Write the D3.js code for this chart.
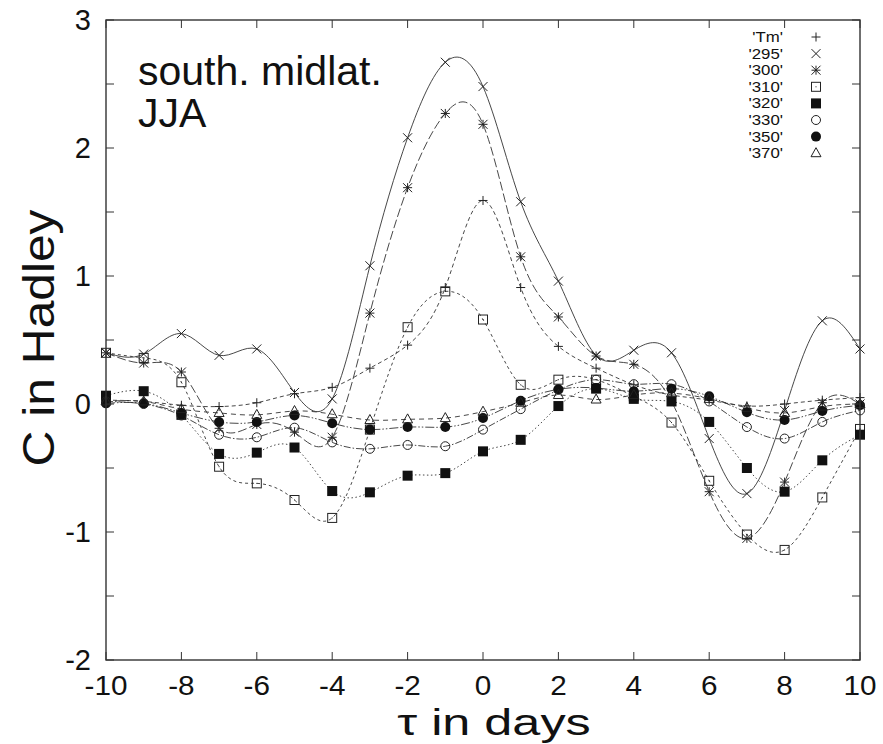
<!DOCTYPE html>
<html>
  <head>
    <script src="https://cdnjs.cloudflare.com/ajax/libs/d3/7.8.5/d3.min.js"></script>
    <style type="text/css">
      body {
        margin: 0;
        padding: 0;
        background: #fff;
      }
      text {
        font-family: "Liberation Sans", Arial, Helvetica, sans-serif;
        fill: #111;
      }
    </style>
  </head>
  <body>
    <div id="chart"></div>
    <script type="text/javascript">
    // lag in days
    const days = [-10, -9, -8, -7, -6, -5, -4, -3, -2, -1, 0, 1, 2, 3, 4, 5, 6, 7, 8, 9, 10];

    // one list per level
    const tm   = [0.03, 0.02, -0.01, -0.02, 0.01, 0.08, 0.13, 0.28, 0.46, 0.91, 1.59, 0.91, 0.45, 0.28, 0.15, 0.07, 0.03, -0.015, 0.0, 0.03, 0.05];
    const s295 = [0.40, 0.39, 0.55, 0.38, 0.43, 0.09, 0.04, 1.08, 2.08, 2.67, 2.48, 1.58, 0.96, 0.38, 0.42, 0.40, -0.27, -0.70, -0.05, 0.65, 0.43];
    const s300 = [0.40, 0.32, 0.25, -0.19, -0.16, -0.22, -0.26, 0.71, 1.69, 2.27, 2.185, 1.15, 0.68, 0.375, 0.31, 0.02, -0.685, -1.05, -0.61, 0.01, 0.0];
    const s310 = [0.40, 0.36, 0.17, -0.49, -0.62, -0.75, -0.89, -0.20, 0.60, 0.88, 0.66, 0.15, 0.19, 0.19, 0.06, -0.145, -0.60, -1.02, -1.14, -0.73, -0.195];
    const s320 = [0.065, 0.10, -0.085, -0.39, -0.38, -0.34, -0.68, -0.69, -0.56, -0.54, -0.37, -0.28, -0.016, 0.12, 0.04, 0.02, -0.14, -0.50, -0.685, -0.44, -0.24];
    const s330 = [0.02, 0.0, -0.09, -0.24, -0.26, -0.185, -0.30, -0.35, -0.32, -0.33, -0.20, -0.04, 0.11, 0.19, 0.155, 0.155, 0.02, -0.18, -0.27, -0.14, -0.05];
    const s350 = [0.005, 0.005, -0.07, -0.14, -0.14, -0.09, -0.15, -0.20, -0.18, -0.18, -0.11, 0.026, 0.115, 0.125, 0.10, 0.12, 0.06, -0.065, -0.125, -0.055, -0.01];
    const s370 = [0.02, 0.02, -0.04, -0.07, -0.085, -0.055, -0.08, -0.125, -0.12, -0.11, -0.06, 0.01, 0.07, 0.035, 0.07, 0.085, 0.04, -0.03, -0.07, -0.02, 0.0];

    const seriesNames = ["'Tm'", "'295'", "'300'", "'310'", "'320'", "'330'", "'350'", "'370'"];
    const seriesValues = [tm, s295, s300, s310, s320, s330, s350, s370];

    const xTicks = [-10, -8, -6, -4, -2, 0, 2, 4, 6, 8, 10];
    const yTicks = [-2, -1, 0, 1, 2, 3];
    const yMinorTicks = [-2, -1.5, -1, -0.5, 0, 0.5, 1, 1.5, 2, 2.5, 3];

    const W = 883, H = 744;
    const x = d3.scaleLinear().domain([-10, 10]).range([106, 860]);
    const y = d3.scaleLinear().domain([-2, 3]).range([660, 20]);

    // gnuplot-like styles, one per series
    const dashes = ['4,3', null, '9,3', '3,3', '1.5,2.5', '7,2,1.5,2', '9,2,1.5,2,1.5,2', '5,4'];
    const symbols = ['plus', 'cross', 'star', 'square', 'fsquare', 'circle', 'fcircle', 'triangle'];

    const svg = d3.select('#chart').append('svg')
      .attr('width', W)
      .attr('height', H);

    // curves first, markers on top
    const line = d3.line()
      .x((d, i) => x(days[i]))
      .y(d => y(d))
      .curve(d3.curveNatural);

    const curves = svg.append('g').attr('class', 'curves');
    seriesValues.forEach((vals, k) => {
      curves.append('path')
        .attr('d', line(vals))
        .attr('fill', 'none')
        .attr('stroke', '#333')
        .attr('stroke-width', 0.9)
        .attr('stroke-dasharray', dashes[k]);
    });

    function drawSymbol(g, kind, cx, cy) {
      const s = 4.5;
      const st = '#222';
      switch (kind) {
        case 'plus':
          g.append('path').attr('d', `M${cx - s},${cy}H${cx + s}M${cx},${cy - s}V${cy + s}`)
            .attr('stroke', st).attr('stroke-width', 1);
          break;
        case 'cross':
          g.append('path').attr('d', `M${cx - s},${cy - s}L${cx + s},${cy + s}M${cx - s},${cy + s}L${cx + s},${cy - s}`)
            .attr('stroke', st).attr('stroke-width', 1);
          break;
        case 'star':
          g.append('path').attr('d', `M${cx - s},${cy}H${cx + s}M${cx},${cy - s}V${cy + s}M${cx - s},${cy - s}L${cx + s},${cy + s}M${cx - s},${cy + s}L${cx + s},${cy - s}`)
            .attr('stroke', st).attr('stroke-width', 1);
          break;
        case 'square':
          g.append('rect').attr('x', cx - s).attr('y', cy - s).attr('width', 2 * s).attr('height', 2 * s)
            .attr('fill', 'none').attr('stroke', st).attr('stroke-width', 1);
          g.append('rect').attr('x', cx - 0.5).attr('y', cy - 0.5).attr('width', 1).attr('height', 1).attr('fill', st);
          break;
        case 'fsquare':
          g.append('rect').attr('x', cx - s - 0.5).attr('y', cy - s - 0.5).attr('width', 2 * s + 1).attr('height', 2 * s + 1)
            .attr('fill', '#111');
          break;
        case 'circle':
          g.append('circle').attr('cx', cx).attr('cy', cy).attr('r', s)
            .attr('fill', 'none').attr('stroke', st).attr('stroke-width', 1);
          break;
        case 'fcircle':
          g.append('circle').attr('cx', cx).attr('cy', cy).attr('r', s + 0.5)
            .attr('fill', '#111');
          break;
        case 'triangle':
          g.append('path').attr('d', `M${cx},${cy - s - 1}L${cx + s + 0.5},${cy + s - 1}L${cx - s - 0.5},${cy + s - 1}Z`)
            .attr('fill', 'none').attr('stroke', st).attr('stroke-width', 1);
          break;
      }
    }

    const marks = svg.append('g').attr('class', 'marks');
    seriesValues.forEach((vals, k) => {
      vals.forEach((v, i) => drawSymbol(marks, symbols[k], x(days[i]), y(v)));
    });

    // frame with inward ticks on all four sides
    const frame = svg.append('g').attr('class', 'frame');
    frame.append('rect')
      .attr('x', x(-10)).attr('y', y(3))
      .attr('width', x(10) - x(-10)).attr('height', y(-2) - y(3))
      .attr('fill', 'none').attr('stroke', '#333').attr('stroke-width', 1.4);

    const tl = 8;
    xTicks.forEach(t => {
      frame.append('line').attr('x1', x(t)).attr('x2', x(t)).attr('y1', y(-2)).attr('y2', y(-2) - tl)
        .attr('stroke', '#333').attr('stroke-width', 1);
      frame.append('line').attr('x1', x(t)).attr('x2', x(t)).attr('y1', y(3)).attr('y2', y(3) + tl)
        .attr('stroke', '#333').attr('stroke-width', 1);
    });
    yMinorTicks.forEach(t => {
      frame.append('line').attr('x1', x(-10)).attr('x2', x(-10) + tl).attr('y1', y(t)).attr('y2', y(t))
        .attr('stroke', '#333').attr('stroke-width', 1);
      frame.append('line').attr('x1', x(10)).attr('x2', x(10) - tl).attr('y1', y(t)).attr('y2', y(t))
        .attr('stroke', '#333').attr('stroke-width', 1);
    });

    svg.append('g').selectAll('text')
      .data(xTicks)
      .enter()
      .append('text')
      .attr('transform', d => `translate(${x(d)},695) scale(1.1,1)`)
      .attr('text-anchor', 'middle')
      .attr('font-size', 27)
      .text(d => d);

    svg.append('g').selectAll('text')
      .data(yTicks)
      .enter()
      .append('text')
      .attr('x', 91)
      .attr('y', d => y(d) + 10)
      .attr('text-anchor', 'end')
      .attr('font-size', 29)
      .text(d => d);

    // axis titles (the originals are drawn wide, so stretch along the baseline)
    svg.append('text')
      .attr('transform', 'translate(54,338) rotate(-90) scale(1.13,1)')
      .attr('text-anchor', 'middle')
      .attr('font-size', 44)
      .text('C in Hadley');

    svg.append('text')
      .attr('transform', 'translate(494,735) scale(1.4,1)')
      .attr('text-anchor', 'middle')
      .attr('font-size', 36)
      .text('\u03c4 in days');

    // panel label
    svg.append('text').attr('x', 138).attr('y', 85).attr('font-size', 41).text('south. midlat.');
    svg.append('text').attr('x', 138).attr('y', 127).attr('font-size', 41).text('JJA');

    // legend: name right-aligned, symbol to the right
    const legend = svg.append('g').attr('class', 'legend');
    seriesNames.forEach((name, k) => {
      const ly = 37 + k * 16.6;
      legend.append('text')
        .attr('transform', `translate(783,${ly + 5}) scale(1.12,1)`)
        .attr('text-anchor', 'end')
        .attr('font-size', 15)
        .text(name);
      drawSymbol(legend, symbols[k], 816, ly);
    });
    </script>
  </body>
</html>
